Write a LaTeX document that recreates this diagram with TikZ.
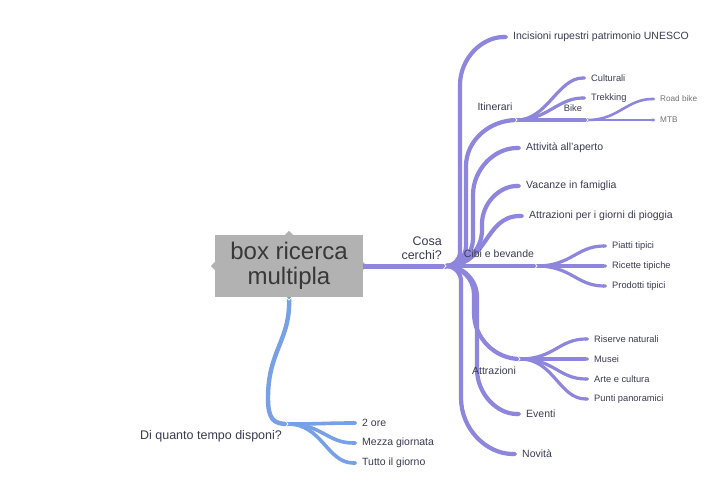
\documentclass[tikz,border=0pt]{standalone}
\usepackage{fontspec}
\setmainfont{Liberation Sans}
\usetikzlibrary{arrows.meta}
\definecolor{mmpurple}{HTML}{8E86DD}
\definecolor{mmblue}{HTML}{77A0E6}
\definecolor{mmtext}{HTML}{3B3B52}
\definecolor{mmbox}{HTML}{B2B2B2}

\begin{document}
\begin{tikzpicture}[x=1pt,y=-1pt,font=\fontsize{10.5}{12}\selectfont,
  lab/.style={text=mmtext,inner sep=0pt},
  leaf/.style={lab,anchor=west,inner xsep=5pt},
  small/.style={font=\fontsize{9.3}{11}\selectfont},
  tiny/.style={font=\fontsize{8.2}{10}\selectfont,text=black!55},
  big/.style={font=\fontsize{12.5}{14}\selectfont},
  bough/.style={draw=#1,line width=5pt},
  twig/.style={draw=#1,line width=4.2pt,-{Triangle Cap[]}},
  sprig/.style={draw=#1,line width=3.2pt,-{Triangle Cap[]}},
  hubmark/.style={white,line width=.7pt}]
\useasboundingbox (0,0) rectangle (725,497);
\fill[white] (0,0) rectangle (725,497);

% Central topic with its four little connector notches.
\node[fill=mmbox,minimum width=148pt,minimum height=62pt,align=center,
  font=\fontsize{24}{25}\selectfont,text=black!78,inner sep=0pt] (root) at (289,266)
  {box ricerca\\multipla};
\fill[mmbox] (root.north) ++(-4,0) -- ++(4,-4) -- ++(4,4) -- cycle;
\fill[mmbox] (root.west) ++(0,-4) -- ++(-4,4) -- ++(4,4) -- cycle;
\fill[mmbox] (root.east) ++(0,-4) -- ++(4,4) -- ++(-4,4) -- cycle;

% Hubs where a branch splits.
\coordinate (cosa) at (446,266);
\coordinate (itin) at (517,120);
\coordinate (bike) at (588,120);
\coordinate (cibi) at (537,266);
\coordinate (attr) at (520,359);
\coordinate (tempo) at (288,424);

% Leaves, placed at the tip of their branch.
\node[leaf] (incis) at (508,37) {Incisioni rupestri patrimonio UNESCO};
\node[leaf] (attiv) at (521,148) {Attività all'aperto};
\node[leaf] (vacan) at (521,186) {Vacanze in famiglia};
\node[leaf] (piogg) at (524,216) {Attrazioni per i giorni di pioggia};
\node[leaf] (event) at (521,414) {Eventi};
\node[leaf] (novit) at (517,454) {Novità};
\node[leaf,small] (cultu) at (586,78) {Culturali};
\node[leaf,small] (trekk) at (586,98) {Trekking};
\node[leaf,tiny] (roadb) at (655,99) {Road bike};
\node[leaf,tiny] (mtb) at (655,120) {MTB};
\node[leaf,small] (piatt) at (607,246) {Piatti tipici};
\node[leaf,small] (ricet) at (607,266) {Ricette tipiche};
\node[leaf,small] (prodo) at (607,286) {Prodotti tipici};
\node[leaf,small] (riser) at (589,339) {Riserve naturali};
\node[leaf,small] (musei) at (589,359) {Musei};
\node[leaf,small] (artec) at (589,379) {Arte e cultura};
\node[leaf,small] (punti) at (589,399) {Punti panoramici};
\node[leaf] (dueor) at (357,423) {2 ore};
\node[leaf] (mezza) at (357,443) {Mezza giornata};
\node[leaf] (tutto) at (357,463) {Tutto il giorno};

% "Cosa cerchi?" branch (purple): each twig bends off the hub, runs along x=\v
% from \ya to \yb, then bends into its end at (\ex,\ye).
\draw[bough=mmpurple] (root.east) -- (cosa);
\foreach \t/\v/\ya/\yb/\ye/\ex in {incis/460/252/85/37/508,attiv/473/239/195/148/521,
    vacan/482/230/224/186/521,event/477/297/369/414/521,novit/461/281/398/454/517}
  \draw[twig=mmpurple] (cosa) .. controls +({0.55*(\v-446)},0) and +(0,{0.55*(266-\ya)}) .. (\v,\ya)
    -- (\v,\yb) .. controls +(0,{0.55*(\ye-\yb)}) and +({-0.55*(\ex-\v)},0) .. (\t.west);
\draw[twig=mmpurple] (cosa) .. controls +(42,0) and +(-40,0) .. (piogg.west);
\draw[twig=mmpurple,-] (cosa) .. controls +(11,0) and +(0,11) .. (466,246) -- (466,166)
  .. controls +(0,-25) and +(-28,0) .. (itin);
\draw[twig=mmpurple,-] (cosa) -- (cibi);
\draw[twig=mmpurple,-] (cosa) .. controls +(15,0) and +(0,-15) .. (474,294) -- (474,313)
  .. controls +(0,25) and +(-25,0) .. (attr);

\foreach \t in {cultu,trekk}
  \draw[sprig=mmpurple] (itin) .. controls +(30,0) and +(-28,0) .. (\t.west);
\draw[sprig=mmpurple,-] (itin) -- (bike);
\draw[sprig=mmpurple,line width=2.6pt] (bike) .. controls +(30,0) and +(-28,0) .. (roadb.west);
\draw[sprig=mmpurple,line width=2.6pt] (bike) -- (mtb.west);

\foreach \t in {piatt,ricet,prodo}
  \draw[sprig=mmpurple] (cibi) .. controls +(34,0) and +(-30,0) .. (\t.west);
\foreach \t in {riser,musei,artec,punti}
  \draw[sprig=mmpurple] (attr) .. controls +(34,0) and +(-30,0) .. (\t.west);

% "Di quanto tempo disponi?" branch (blue).
\draw[bough=mmblue,line width=4.4pt] (root.south) .. controls (291,340) and (268,350) .. (268,398)
  .. controls (268,420) and (274,424) .. (tempo);
\foreach \t in {dueor,mezza,tutto}
  \draw[sprig=mmblue,line width=3.6pt] (tempo) .. controls +(34,0) and +(-30,0) .. (\t.west);

% White chevrons on the split points.
\foreach \h in {cosa,itin,bike,cibi,attr,tempo}
  \draw[hubmark] (\h) ++(-2.5,-3) -- ++(2.5,3) -- ++(-2.5,3);
\draw[hubmark] (root.south) ++(-3,0) -- ++(3,3) -- ++(3,-3);

% Labels sitting on a hub, written over the branches.
\node[lab,big,align=right,anchor=south east] (cosalab) at (442,260) {Cosa\\cerchi?};
\node[lab] (itinlab) at (495,107) {Itinerari};
\node[lab,small] (bikelab) at (573,108) {Bike};
\node[lab] (cibilab) at (499,254) {Cibi e bevande};
\node[lab] (attrlab) at (494,371) {Attrazioni};
\node[lab,big] (tempolab) at (211,436) {Di quanto tempo disponi?};
\end{tikzpicture}
\end{document}
